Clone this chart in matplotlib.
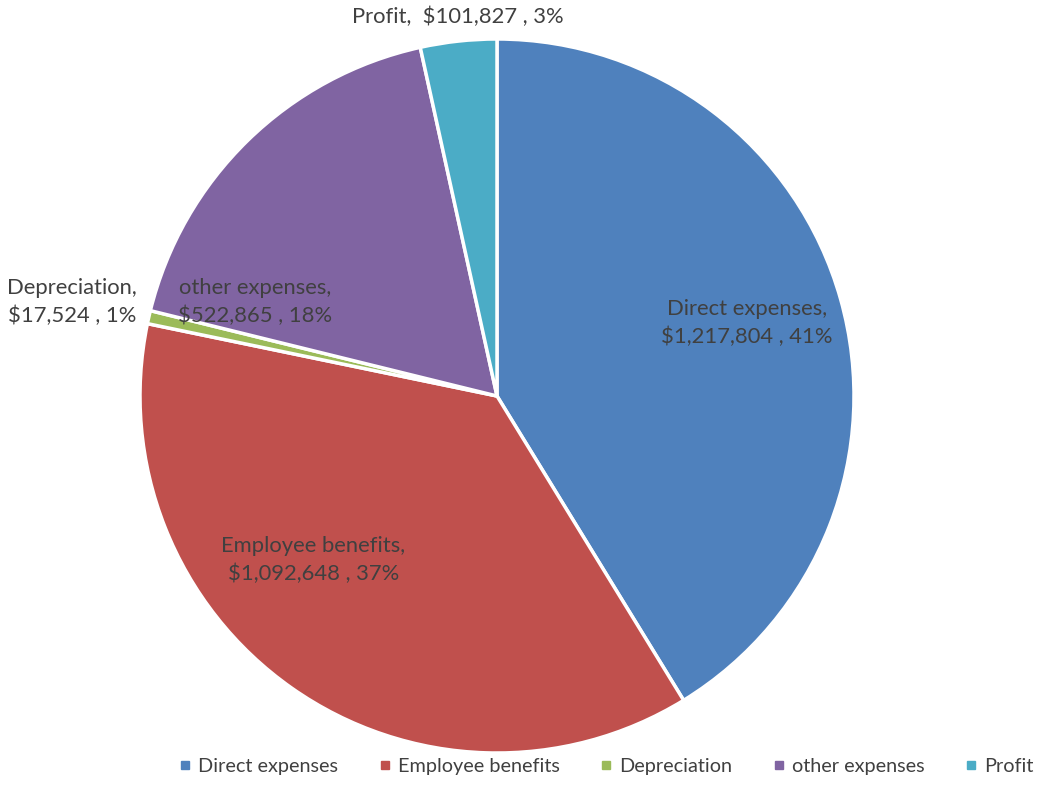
import matplotlib.pyplot as plt
from matplotlib.lines import Line2D

plt.rcParams['font.family'] = ['Lato', 'DejaVu Sans']

categories = ['Direct expenses', 'Employee benefits', 'Depreciation', 'other expenses', 'Profit']
values = [1217804, 1092648, 17524, 522865, 101827]
colors = ['#4F81BD', '#C0504D', '#9BBB59', '#8064A2', '#4BACC6']

# label positions in pie radius units (Excel "best fit" placement)
label_pos = [(0.70, 0.204), (-0.515, -0.459), (-1.19, 0.263), (-0.678, 0.263), (-0.109, 1.062)]

total = sum(values)

fig = plt.figure(figsize=(10.52, 7.87), dpi=100)
cx, cy, r = 497, 396, 357
ax = fig.add_axes([(cx - r) / 1052, (787 - cy - r) / 787, 2 * r / 1052, 2 * r / 787])
ax.pie(values, colors=colors, startangle=90, counterclock=False, radius=1,
       wedgeprops=dict(edgecolor='white', linewidth=2.5))
ax.set_xlim(-1, 1)
ax.set_ylim(-1, 1)
ax.set_aspect('equal')
ax.axis('off')

for name, v, (lx, ly) in zip(categories, values, label_pos):
    pct = round(v / total * 100)
    if name == 'Profit':
        txt = f'{name},  ${v:,} , {pct}%'
    else:
        txt = f'{name},\n${v:,} , {pct}%'
    ax.text(lx, ly, txt, ha='center', va='center', fontsize=15.8, color='#404040',
            linespacing=1.45, clip_on=False)

handles = [Line2D([], [], marker='s', linestyle='', color=c, markersize=6) for c in colors]
fig.legend(handles, categories, loc='lower center', bbox_to_anchor=(606 / 1052, -0.008),
           ncol=5, frameon=False, fontsize=14.3, handlelength=0.7, handletextpad=0.3,
           columnspacing=2.0, labelcolor='#404040')

fig.savefig('out.png', dpi=100)
